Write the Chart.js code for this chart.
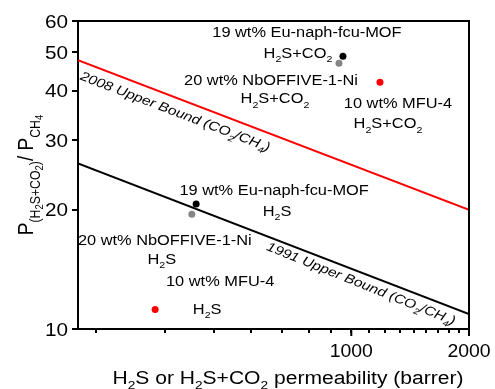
<!DOCTYPE html>
<html>
<head>
<meta charset="utf-8">
<script src="https://cdn.jsdelivr.net/npm/chart.js@4/dist/chart.umd.min.js"></script>
<style>
  html, body { margin: 0; padding: 0; background: #fff; }
  #wrap { width: 495px; height: 389px; }
</style>
</head>
<body>
<div id="wrap"><canvas id="chart" width="495" height="389"></canvas></div>
<script>
// upper bound lines (end points at the axis limits)
const boundX = [200, 2000];
const bound2008 = [47.8, 20.0];
const bound1991 = [26.2, 10.9];

// membranes
const mofNames = ['19 wt% Eu-naph-fcu-MOF', '20 wt% NbOFFIVE-1-Ni', '10 wt% MFU-4'];
const mofColors = ['#000000', '#858585', '#ff0000'];
const mixPerm = [952, 930, 1184];   // H2S+CO2
const mixSel = [48.9, 46.9, 42.0];
const h2sPerm = [401, 391, 315];    // H2S
const h2sSel = [20.7, 19.5, 11.2];

// axis ticks
const xTicks = [222.2, 333.3, 444.4, 555.6, 666.7, 777.8, 888.9, 1000,
  1111.1, 1222.2, 1333.3, 1444.4, 1555.6, 1666.7, 1777.8, 1888.9, 2000];
const xLabels = [1000, 2000];
const yTicks = [10, 20, 30, 40, 50, 60];

const FONT = '"Liberation Sans", Arial, sans-serif';
const SX = 1.17; // the source picture is a bit wider than tall

function drawRich(ctx, parts, x, y, size, opts = {}) {
  const style = opts.italic ? 'italic ' : '';
  const scl = [1, 0.65, 0.5];
  const shift = [0, 0.3, 0.45];
  const pieces = parts.map(([t, l]) => {
    const f = style + (size * scl[l]).toFixed(1) + 'px ' + FONT;
    ctx.font = f;
    return { t, f, w: ctx.measureText(t).width, dy: size * shift[l] };
  });
  const total = pieces.reduce((a, p) => a + p.w, 0);
  ctx.save();
  ctx.translate(x, y);
  if (opts.rot) ctx.rotate(opts.rot);
  ctx.scale(opts.sx || 1, opts.sy || 1);
  let cx = opts.align === 'left' ? 0 : opts.align === 'right' ? -total : -total / 2;
  ctx.textAlign = 'left';
  ctx.textBaseline = 'alphabetic';
  ctx.fillStyle = '#000';
  pieces.forEach(p => { ctx.font = p.f; ctx.fillText(p.t, cx, p.dy); cx += p.w; });
  ctx.restore();
}

const gasMix = [['H', 0], ['2', 1], ['S+CO', 0], ['2', 1]];
const gasH2S = [['H', 0], ['2', 1], ['S', 0]];

// label offsets from each point (cap centre of name line, then gas line)
const mixOff = [[-36, -24, -45, -3], [-68, 17, -64, 35], [18, 21, 8, 41]];
const h2sOff = [[78, -14, 81, 7], [-27, 26, -30, 45], [65, -29, 52, -1]];

const decor = {
  id: 'decor',
  afterDraw(chart) {
    const ctx = chart.ctx;
    const xs = chart.scales.x, ys = chart.scales.y;
    const a = chart.chartArea;

    // frame top / right
    ctx.save();
    ctx.strokeStyle = '#000';
    ctx.lineWidth = 2;
    ctx.beginPath();
    ctx.moveTo(a.left, a.top);
    ctx.lineTo(a.right, a.top);
    ctx.lineTo(a.right, a.bottom);
    ctx.stroke();
    // longer major ticks on x
    xLabels.forEach(v => {
      const px = xs.getPixelForValue(v);
      ctx.beginPath();
      ctx.moveTo(px, a.bottom);
      ctx.lineTo(px, a.bottom + 7);
      ctx.stroke();
    });
    ctx.restore();

    // tick labels
    xLabels.forEach(v => {
      drawRich(ctx, [[String(v), 0]], xs.getPixelForValue(v), 357, 18, { sx: 1.08 });
    });
    yTicks.forEach(v => {
      drawRich(ctx, [[String(v), 0]], 68, ys.getPixelForValue(v) + 6.5, 18, { sx: 1.15, align: 'right' });
    });

    // bound labels along the lines
    const lineLabel = (vals, t, off, extra, parts) => {
      const x0 = xs.getPixelForValue(boundX[0]), y0 = ys.getPixelForValue(vals[0]);
      const x1 = xs.getPixelForValue(boundX[1]), y1 = ys.getPixelForValue(vals[1]);
      const ang = Math.atan2(y1 - y0, x1 - x0) + extra;
      const cx = x0 + (x1 - x0) * t, cy = y0 + (y1 - y0) * t;
      const d = off + 4.5;
      drawRich(ctx, parts, cx - Math.sin(ang) * d, cy + Math.cos(ang) * d, 13,
        { italic: true, rot: ang, sx: SX });
    };
    lineLabel(bound2008, 0.261, 13, 0, [['2008 Upper Bound (CO', 0], ['2', 1], ['/CH', 0], ['4', 1], [')', 0]]);
    lineLabel(bound1991, 0.734, 10, 0.014, [['1991 Upper Bound (CO', 0], ['2', 1], ['/CH', 0], ['4', 1], [')', 0]]);

    // point labels
    mofNames.forEach((name, i) => {
      let px = xs.getPixelForValue(mixPerm[i]), py = ys.getPixelForValue(mixSel[i]);
      let o = mixOff[i];
      drawRich(ctx, [[name, 0]], px + o[0], py + o[1] + 5, 14, { sx: SX });
      drawRich(ctx, gasMix, px + o[2], py + o[3] + 5, 14, { sx: SX });
      px = xs.getPixelForValue(h2sPerm[i]); py = ys.getPixelForValue(h2sSel[i]);
      o = h2sOff[i];
      drawRich(ctx, [[name, 0]], px + o[0], py + o[1] + 5, 14, { sx: SX });
      drawRich(ctx, gasH2S, px + o[2], py + o[3] + 5, 14, { sx: SX });
    });

    // axis titles
    drawRich(ctx, [['H', 0], ['2', 1], ['S or H', 0], ['2', 1], ['S+CO', 0], ['2', 1], [' permeability (barrer)', 0]],
      288, 384, 18, { sx: SX });
    drawRich(ctx, [['P', 0], ['(H', 1], ['2', 2], ['S+CO', 1], ['2', 2], [')', 1], ['/ P', 0], ['CH', 1], ['4', 2]],
      33, (a.top + a.bottom) / 2, 19, { rot: -Math.PI / 2, sy: SX });
  }
};

const ctx = document.getElementById('chart').getContext('2d');
const pts = (xv, yv) => xv.map((x, i) => ({ x, y: yv[i] }));

new Chart(ctx, {
  type: 'scatter',
  data: {
    datasets: [
      { data: pts(boundX, bound2008), showLine: true, borderColor: '#ff0000', borderWidth: 2, pointRadius: 0 },
      { data: pts(boundX, bound1991), showLine: true, borderColor: '#000000', borderWidth: 2, pointRadius: 0 },
      { data: pts(mixPerm, mixSel), pointRadius: 3.5, pointBorderWidth: 0, pointBackgroundColor: mofColors },
      { data: pts(h2sPerm, h2sSel), pointRadius: 3.5, pointBorderWidth: 0, pointBackgroundColor: mofColors }
    ]
  },
  options: {
    responsive: false,
    animation: false,
    devicePixelRatio: 1,
    layout: { padding: { top: 21, right: 26, left: 0, bottom: 0 } },
    plugins: { legend: { display: false }, tooltip: { enabled: false } },
    scales: {
      x: {
        type: 'logarithmic', min: 200, max: 2000,
        afterBuildTicks: s => { s.ticks = xTicks.map(v => ({ value: v })); },
        afterFit: s => { s.height = 60; },
        ticks: { display: false },
        grid: { drawOnChartArea: false, tickLength: 4, lineWidth: 2, color: '#000' },
        border: { color: '#000', width: 2 }
      },
      y: {
        type: 'logarithmic', min: 10, max: 60,
        afterBuildTicks: s => { s.ticks = yTicks.map(v => ({ value: v })); },
        afterFit: s => { s.width = 78; },
        ticks: { display: false },
        grid: { drawOnChartArea: false, tickLength: 6, lineWidth: 2, color: '#000' },
        border: { color: '#000', width: 2 }
      }
    }
  },
  plugins: [decor]
});
</script>
</body>
</html>
